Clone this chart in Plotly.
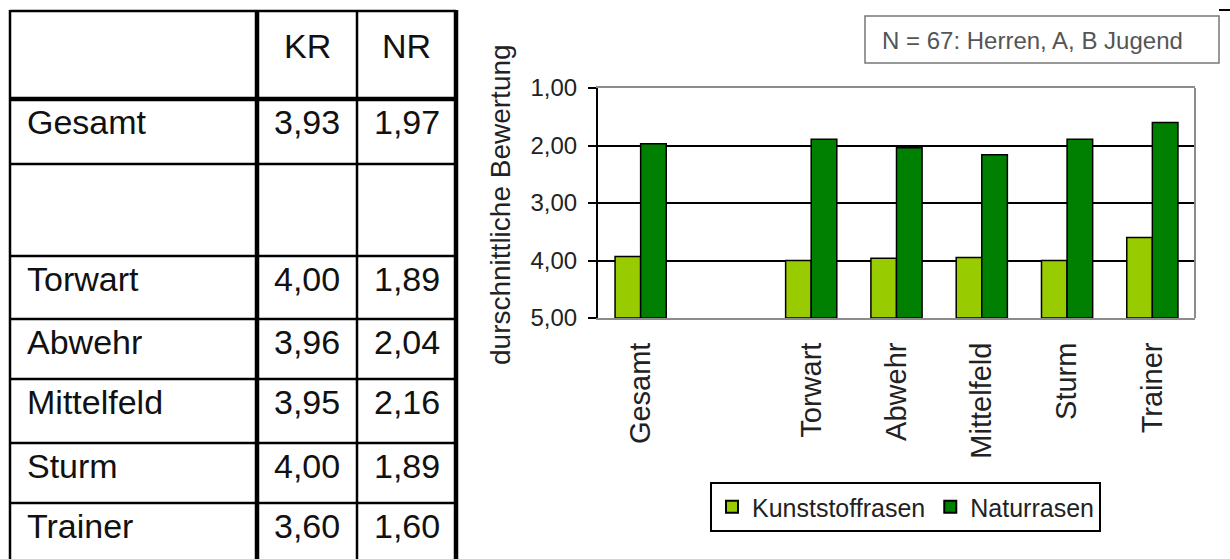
import plotly.graph_objects as go

# ---------------- data ----------------
categories = ["Gesamt", "", "Torwart", "Abwehr", "Mittelfeld", "Sturm", "Trainer"]
kr_values = [3.93, None, 4.00, 3.96, 3.95, 4.00, 3.60]   # Kunststoffrasen
nr_values = [1.97, None, 1.89, 2.04, 2.16, 1.89, 1.60]   # Naturrasen
series_names = ["Kunststoffrasen", "Naturrasen"]
table_header = ["", "KR", "NR"]
y_ticks = [1, 2, 3, 4, 5]
y_tick_labels = ["1,00", "2,00", "3,00", "4,00", "5,00"]
y_title = "durschnittliche Bewertung"
note_text = "N = 67: Herren, A, B Jugend"

# ---------------- layout helpers ----------------
W, H = 1230, 559
BASE = 5
FONT = "Liberation Sans, Arial, sans-serif"
LIGHT = "#99CC00"
DARK = "#008000"


def px(xp):
    return xp / W


def py(yp):
    return 1 - yp / H


def fmt(v):
    return "" if v is None else f"{v:.2f}".replace(".", ",")


x_pos = list(range(len(categories)))

fig = go.Figure()
for name, vals, color in [(series_names[0], kr_values, LIGHT), (series_names[1], nr_values, DARK)]:
    fig.add_trace(go.Bar(
        x=x_pos,
        y=[None if v is None else v - BASE for v in vals],
        base=BASE,
        name=name,
        customdata=[fmt(v) for v in vals],
        hovertemplate="%{customdata}<extra>" + name + "</extra>",
        marker=dict(color=color, line=dict(color="black", width=1.5)),
    ))

# ---------------- table (left) ----------------
col_edges = [10, 257, 357, 456]
col_widths = [2.5, 4.5, 2.5, 4.5]
row_edges = [11, 99, 164, 256, 319, 379, 443, 503]
row_widths = [2.5, 4.5, 2.5, 2.5, 2.5, 2.5, 2.5, 2.5]
table_bottom = 559

shapes = []
for xe, lw in zip(col_edges, col_widths):
    shapes.append(dict(type="line", xref="paper", yref="paper",
                       x0=px(xe), x1=px(xe), y0=py(row_edges[0] - 1), y1=py(table_bottom),
                       line=dict(color="black", width=lw)))
for ye, lw in zip(row_edges, row_widths):
    shapes.append(dict(type="line", xref="paper", yref="paper",
                       x0=px(col_edges[0]), x1=px(col_edges[-1]), y0=py(ye), y1=py(ye),
                       line=dict(color="black", width=lw)))
# right border of plot area (gray)
shapes.append(dict(type="line", xref="paper", yref="paper",
                   x0=px(1195), x1=px(1195), y0=py(318), y1=py(88),
                   line=dict(color="#8c8c8c", width=2)))
# small dash at top right
shapes.append(dict(type="line", xref="paper", yref="paper",
                   x0=px(1219), x1=px(1230), y0=py(10), y1=py(10),
                   line=dict(color="black", width=2)))
# note box frame
shapes.append(dict(type="rect", xref="paper", yref="paper",
                   x0=px(865), x1=px(1219), y0=py(63), y1=py(16),
                   line=dict(color="#777777", width=1.5), fillcolor="white"))

annotations = []
tfont = dict(family=FONT, size=34, color="#111111")
# header
for j, htxt in enumerate(table_header):
    if htxt:
        annotations.append(dict(text=htxt, xref="paper", yref="paper",
                                x=px((col_edges[j] + col_edges[j + 1]) / 2), y=py(46),
                                xanchor="center", yanchor="middle", showarrow=False, font=tfont))
# body rows
for i, cat in enumerate(categories):
    top = row_edges[i + 1]
    yc = py(top + 23)
    if cat:
        annotations.append(dict(text=cat, xref="paper", yref="paper", x=px(25), y=yc,
                                xanchor="left", yanchor="middle", showarrow=False, font=tfont))
    for j, vals in enumerate([kr_values, nr_values]):
        if vals[i] is not None:
            annotations.append(dict(text=fmt(vals[i]), xref="paper", yref="paper",
                                    x=px((col_edges[j + 1] + col_edges[j + 2]) / 2), y=yc,
                                    xanchor="center", yanchor="middle", showarrow=False, font=tfont))

# y-axis title
annotations.append(dict(text=y_title, xref="paper", yref="paper", x=px(501), y=py(204),
                        textangle=-90, xanchor="center", yanchor="middle", showarrow=False,
                        font=dict(family=FONT, size=28, color="#222222")))
# note text
annotations.append(dict(text=note_text, xref="paper", yref="paper", x=px(880), y=py(40),
                        xanchor="left", yanchor="middle", showarrow=False, align="left",
                        font=dict(family=FONT, size=24, color="#555555")))

fig.update_layout(
    width=W, height=H,
    margin=dict(l=0, r=0, t=0, b=0, autoexpand=False),
    paper_bgcolor="white", plot_bgcolor="white",
    barmode="group", bargap=0.4, bargroupgap=0,
    font=dict(family=FONT, color="#222222"),
    xaxis=dict(domain=[px(598), px(1195)], range=[-0.5, len(categories) - 0.5],
               tickvals=x_pos, ticktext=categories, tickangle=-90,
               tickfont=dict(family=FONT, size=29, color="#222222"),
               ticks="", showgrid=False, zeroline=False, automargin=False,
               showline=True, linecolor="#8c8c8c", linewidth=2, mirror=True,
               ticklabelstandoff=11),
    yaxis=dict(domain=[py(318), py(88)], range=[5, 1], automargin=False,
               tickvals=y_ticks, ticktext=y_tick_labels,
               tickfont=dict(family=FONT, size=24, color="#222222"),
               ticks="outside", ticklen=8, tickwidth=1.5, tickcolor="black",
               showgrid=True, gridcolor="black", gridwidth=1.5, zeroline=False,
               showline=True, linecolor="black", linewidth=2,
               ticklabelstandoff=6),
    legend=dict(orientation="h", x=px(710), y=py(482), xanchor="left", yanchor="top",
                bordercolor="black", borderwidth=2, bgcolor="white",
                font=dict(family=FONT, size=25, color="#222222"),
                itemsizing="constant", traceorder="normal"),
    shapes=shapes,
    annotations=annotations,
    showlegend=True,
)

fig.write_html("out.html")
